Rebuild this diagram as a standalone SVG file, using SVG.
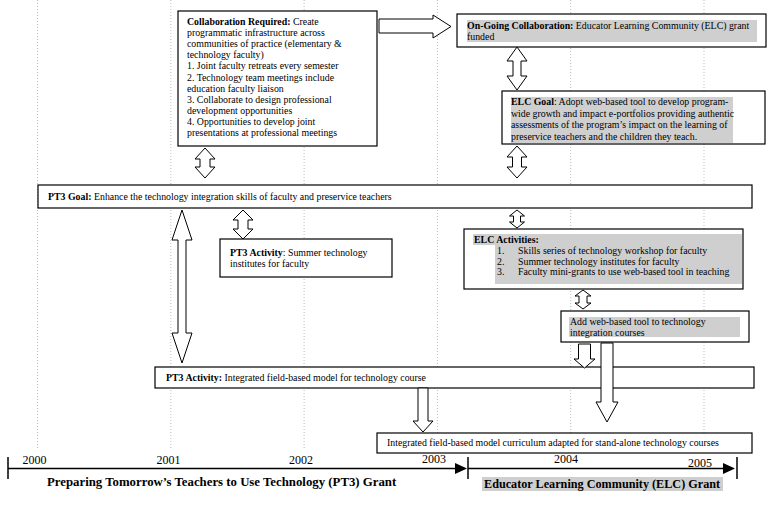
<svg xmlns="http://www.w3.org/2000/svg" width="775" height="505" viewBox="0 0 775 505">
<style>
  .bg{fill:#ffffff}
  .grid{stroke:#bdbdbd;stroke-width:1;stroke-dasharray:1,2;fill:none}
  .box{fill:#ffffff;stroke:#000000;stroke-width:1.2}
  .hl{fill:#cfcfcf}
  .t{font-family:"Liberation Serif","Times New Roman",serif;font-size:9.85px;fill:#000000}
  .b{font-weight:bold}
  .arr{fill:#ffffff;stroke:#000000;stroke-width:1}
  .tl{stroke:#000000;stroke-width:1.5;fill:none}
  .yr{font-family:"Liberation Serif","Times New Roman",serif;font-size:12px;fill:#000000;text-anchor:middle}
  .gr{font-family:"Liberation Serif","Times New Roman",serif;font-weight:bold;fill:#000000}
</style>
<rect class="bg" x="0" y="0" width="775" height="505"/>
<g id="gridlines">
  <line class="grid" x1="37.5" y1="0" x2="37.5" y2="448"/>
  <line class="grid" x1="170.8" y1="0" x2="170.8" y2="448"/>
  <line class="grid" x1="304.1" y1="0" x2="304.1" y2="448"/>
  <line class="grid" x1="437.4" y1="0" x2="437.4" y2="448"/>
  <line class="grid" x1="570.7" y1="0" x2="570.7" y2="448"/>
  <line class="grid" x1="704" y1="0" x2="704" y2="448"/>
</g>
<g id="collaboration-required">
  <rect class="box" x="178" y="11" width="199" height="135"/>
  <text class="t" x="187" y="25"><tspan class="b">Collaboration Required:</tspan>  Create</text>
  <text class="t" x="187" y="36.1">programmatic infrastructure across</text>
  <text class="t" x="187" y="47.2">communities of practice (elementary &amp;</text>
  <text class="t" x="187" y="58.3">technology faculty)</text>
  <text class="t" x="187" y="69.4">1. Joint faculty retreats every semester</text>
  <text class="t" x="187" y="80.5">2. Technology team meetings include</text>
  <text class="t" x="187" y="91.6">education faculty liaison</text>
  <text class="t" x="187" y="102.7">3. Collaborate to design professional</text>
  <text class="t" x="187" y="113.8">development opportunities</text>
  <text class="t" x="187" y="124.9">4. Opportunities to develop joint</text>
  <text class="t" x="187" y="136">presentations at professional meetings</text>
</g>
<g id="ongoing-collaboration">
  <rect class="box" x="457" y="14" width="309" height="33"/>
  <rect class="hl" x="467" y="20" width="290" height="22"/>
  <text class="t" x="467" y="29"><tspan class="b">On-Going Collaboration:</tspan>  Educator Learning Community (ELC) grant</text>
  <text class="t" x="467" y="39.5">funded</text>
</g>
<g id="elc-goal">
  <rect class="box" x="502" y="91" width="263" height="53"/>
  <rect class="hl" x="511" y="97" width="222" height="46"/>
  <text class="t" x="511" y="105"><tspan class="b">ELC Goal</tspan>:  Adopt web-based tool to develop program-</text>
  <text class="t" x="511" y="116.5">wide growth and impact e-portfolios providing authentic</text>
  <text class="t" x="511" y="128">assessments of the program’s impact on the learning of</text>
  <text class="t" x="511" y="139.5">preservice teachers and the children they teach.</text>
</g>
<g id="pt3-goal">
  <rect class="box" x="38" y="185" width="714" height="23"/>
  <text class="t" x="48" y="200"><tspan class="b">PT3 Goal:</tspan>  Enhance the technology integration skills of faculty and preservice teachers</text>
</g>
<g id="pt3-activity-summer">
  <rect class="box" x="220" y="239" width="172" height="38"/>
  <text class="t" x="230" y="255.5"><tspan class="b">PT3 Activity</tspan>: Summer technology</text>
  <text class="t" x="230" y="267">institutes for faculty</text>
</g>
<g id="elc-activities">
  <rect class="box" x="464" y="229" width="279" height="60"/>
  <rect class="hl" x="473" y="234" width="269" height="11"/>
  <rect class="hl" x="495" y="245" width="247" height="39"/>
  <text class="t b" x="474" y="243">ELC Activities:</text>
  <text class="t" x="497" y="254">1.</text>
  <text class="t" x="518" y="254">Skills series of technology workshop for faculty</text>
  <text class="t" x="497" y="264.5">2.</text>
  <text class="t" x="518" y="264.5">Summer technology institutes for faculty</text>
  <text class="t" x="497" y="275">3.</text>
  <text class="t" x="518" y="275">Faculty mini-grants to use web-based tool in teaching</text>
</g>
<g id="add-web-tool">
  <rect class="box" x="561" y="311" width="188" height="31"/>
  <rect class="hl" x="569" y="317" width="171" height="20"/>
  <text class="t" x="570" y="325">Add web-based tool to technology</text>
  <text class="t" x="570" y="336">integration courses</text>
</g>
<g id="pt3-activity-field">
  <rect class="box" x="155" y="367" width="599" height="21"/>
  <text class="t" x="166" y="381"><tspan class="b">PT3 Activity:</tspan>  Integrated field-based model for technology course</text>
</g>
<g id="integrated-curriculum">
  <rect class="box" x="377" y="433" width="375" height="20"/>
  <text class="t" x="387" y="446">Integrated field-based model curriculum adapted for stand-alone technology courses</text>
</g>
<g id="connectors">
  <path class="arr" d="M379,19 L433,19 L433,15 L451,26.5 L433,38 L433,33 L379,33 Z"/>
  <path class="arr" d="M517,47 L527,61 L521,61 L521,76 L527,76 L517,90 L507,76 L513,76 L513,61 L507,61 Z"/>
  <path class="arr" d="M517,146 L527,157 L521.5,157 L521.5,167 L527,167 L517,178 L507,167 L512.5,167 L512.5,157 L507,157 Z"/>
  <path class="arr" d="M205,148 L215,159 L210,159 L210,167 L215,167 L205,178 L195,167 L200,167 L200,159 L195,159 Z"/>
  <path class="arr" d="M182,210 L192,240 L186,240 L186,333 L192,333 L182,363 L172,333 L178,333 L178,240 L172,240 Z"/>
  <path class="arr" d="M243,210 L253,220 L248,220 L248,229 L253,229 L243,239 L233,229 L238,229 L238,220 L233,220 Z"/>
  <path class="arr" d="M517,210 L524.5,216 L520.5,216 L520.5,222 L524.5,222 L517,228 L509.5,222 L513.5,222 L513.5,216 L509.5,216 Z"/>
  <path class="arr" d="M583,290 L591,296 L587,296 L587,303 L591,303 L583,309 L575,303 L579,303 L579,296 L575,296 Z"/>
  <path class="arr" d="M578.5,344 L590.5,344 L590.5,359 L595,359 L584.5,368 L574,359 L578.5,359 Z"/>
  <path class="arr" d="M601,343 L613,343 L613,402 L618,402 L607,422 L596,402 L601,402 Z"/>
  <path class="arr" d="M418,388 L428,388 L428,421 L433,421 L423,432 L413,421 L418,421 Z"/>
</g>
<g id="timeline">
  <line class="tl" x1="8" y1="457" x2="8" y2="479"/>
  <line class="tl" x1="8" y1="468.5" x2="456" y2="468.5"/>
  <polygon points="455,463 467,468.5 455,474" fill="#000000"/>
  <line class="tl" x1="468" y1="457" x2="468" y2="479"/>
  <line class="tl" x1="468" y1="468.5" x2="724" y2="468.5"/>
  <polygon points="723,463 735,468.5 723,474" fill="#000000"/>
  <line class="tl" x1="737" y1="457" x2="737" y2="479"/>
  <text class="yr" x="34.5" y="464">2000</text>
  <text class="yr" x="168.5" y="464">2001</text>
  <text class="yr" x="301" y="464">2002</text>
  <text class="yr" x="434" y="462.5">2003</text>
  <text class="yr" x="566" y="462.5">2004</text>
  <text class="yr" x="700" y="466.5">2005</text>
  <text class="gr" x="47" y="486" font-size="12.8px">Preparing Tomorrow’s Teachers to Use Technology (PT3) Grant</text>
  <rect class="hl" x="482" y="477" width="241" height="14"/>
  <text class="gr" x="484" y="488" font-size="12.2px">Educator Learning Community (ELC) Grant</text>
</g>
</svg>
